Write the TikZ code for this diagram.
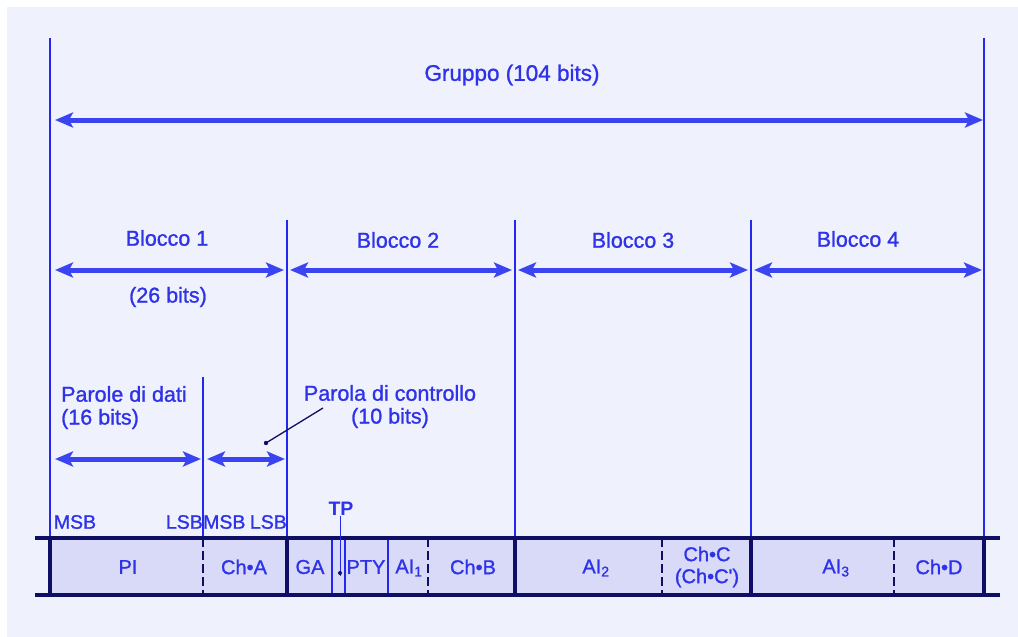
\documentclass[tikz,border=0pt]{standalone}
\usepackage{fontspec}
\setmainfont{Liberation Sans}
\newfontfamily\labelfont[FakeBold=1.1]{Liberation Sans}
\newfontfamily\tpfont{Liberation Sans Bold}
\usetikzlibrary{arrows.meta}
\definecolor{ink}{RGB}{46,50,232}
\definecolor{guideblue}{RGB}{36,40,238}
\definecolor{spanblue}{RGB}{58,68,240}
\definecolor{framenavy}{RGB}{14,14,100}
\definecolor{cellfill}{RGB}{216,218,248}
\definecolor{paper}{RGB}{239,241,252}
\begin{document}
\begin{tikzpicture}[x=1pt,y=-1pt,
  lbl/.style={text=ink, inner sep=0pt, font=\labelfont\fontsize{21.5}{24}\selectfont},
  small/.style={text=ink, inner sep=0pt, font=\labelfont\fontsize{19.5}{22}\selectfont},
  cell/.style={text=ink, inner sep=0pt, font=\labelfont\fontsize{20}{22}\selectfont, align=center},
  span/.style={draw=spanblue, line width=5pt,
    {Stealth[length=18pt,width=15pt,inset=4pt]}-{Stealth[length=18pt,width=15pt,inset=4pt]}},
  guide/.style={draw=guideblue, line width=1.3pt},
  edge/.style={draw=framenavy, line width=3.2pt},
  blockedge/.style={draw=framenavy, line width=4.5pt},
  fieldsep/.style={draw=guideblue, line width=1.2pt},
  fielddash/.style={draw=framenavy, line width=1.4pt, dash pattern=on 9pt off 4pt},
  pointer/.style={draw=framenavy, line width=1.3pt}]
\useasboundingbox (0,0) rectangle (1018,637);
% paper
\fill[white] (0,0) rectangle (1018,637);
\fill[paper] (7,7) rectangle (1018,637);

% block boundaries
\foreach \n/\x in {0/50,1/287,2/515,3/751,4/984}{
  \coordinate (top\n) at (\x,220);
  \coordinate (bar\n) at (\x,538);
  \coordinate (low\n) at (\x,595);
}
\coordinate (gtopL) at (50,38);
\coordinate (gtopR) at (984,38);
\coordinate (wtop) at (203,377);
\coordinate (wbar) at (203,538);
\coordinate (wlow) at (203,595);

% the bar of the group
\fill[cellfill] (bar0) rectangle (low4);
\coordinate (barL) at (35,538);
\coordinate (barR) at (1000,538);
\coordinate (lowL) at (35,595);
\coordinate (lowR) at (1000,595);

% guide lines
\draw[guide] (gtopL) -- (bar0);
\draw[guide] (gtopR) -- (bar4);
\foreach \n in {1,2,3}{ \draw[guide] (top\n) -- (bar\n); }
\draw[guide] (wtop) -- (wbar);

% field separators inside the bar
\draw[fielddash] (wbar) -- (wlow);
\foreach \x in {428,662,894}{ \draw[fielddash] (\x,538) -- (\x,595); }
\foreach \x in {332,345,388}{ \draw[fieldsep] (\x,538) -- (\x,595); }

% bar frame
\draw[edge] (barL) -- (barR);
\draw[edge] (lowL) -- (lowR);
\foreach \n in {0,1,2,3,4}{ \draw[blockedge] (bar\n) -- (low\n); }

% group span
\node[lbl, font=\labelfont\fontsize{22.5}{25}\selectfont] (gruppo) at (512,75) {Gruppo (104 bits)};
\coordinate (gL) at (55,120);
\coordinate (gR) at (983,120);
\draw[span] (gL) -- (gR);

% block spans
\node[lbl] (blk1) at (167,238) {Blocco 1};
\node[lbl] (blk2) at (398,240) {Blocco 2};
\node[lbl] (blk3) at (633,240) {Blocco 3};
\node[lbl] (blk4) at (858,239) {Blocco 4};
\node[lbl] (bits26) at (168,297) {(26 bits)};
\coordinate (s1L) at (55,270);   \coordinate (s1R) at (284,270);
\coordinate (s2L) at (290,270);  \coordinate (s2R) at (512,270);
\coordinate (s3L) at (518,270);  \coordinate (s3R) at (748,270);
\coordinate (s4L) at (754,270);  \coordinate (s4R) at (982,270);
\draw[span] (s1L) -- (s1R);
\draw[span] (s2L) -- (s2R);
\draw[span] (s3L) -- (s3R);
\draw[span] (s4L) -- (s4R);

% word spans
\node[lbl, anchor=west] (dati) at (61,394) {Parole di dati};
\node[lbl, anchor=west] (bits16) at (61,419) {(16 bits)};
\node[lbl] (ctrl) at (390,393) {Parola di controllo};
\node[lbl] (bits10) at (390,418) {(10 bits)};
\coordinate (dL) at (55,459);  \coordinate (dR) at (201,459);
\coordinate (cL) at (207,459); \coordinate (cR) at (285,459);
\draw[span] (dL) -- (dR);
\draw[span] (cL) -- (cR);
\coordinate (ptrTip) at (266,443);
\coordinate (ptrEnd) at (323,408);
\draw[pointer] (ptrTip) -- (ptrEnd);
\fill[framenavy] (ptrTip) circle (2.2pt);

% bit order labels
\node[small] (msb1) at (75,522) {MSB};
\node[small, anchor=east] (lsb1) at (203,522) {LSB};
\node[small, anchor=west] (msb2) at (203,522) {MSB};
\node[small, anchor=east] (lsb2) at (287,522) {LSB};
\node[small, font=\tpfont\fontsize{19.5}{22}\selectfont] (tp) at (341,509) {TP};
\coordinate (tpdot) at (340,573);
\draw[guideblue, line width=0.8pt] (tp.south -| tpdot) -- ([yshift=-3pt]tpdot);
\fill[framenavy] (tpdot) circle (2pt);

% field names
\node[cell] (pi) at (128,567) {PI};
\node[cell] (cha) at (244,567) {Ch•A};
\node[cell] (ga) at (310,567) {GA};
\node[cell] (pty) at (366,567) {PTY};
\node[cell] (ai1) at (409,568) {AI\textsubscript{1}};
\node[cell] (chb) at (473,567) {Ch•B};
\node[cell] (ai2) at (596,568) {AI\textsubscript{2}};
\node[cell] (chc) at (707,567) {Ch•C\\(Ch•C')};
\node[cell] (ai3) at (836,568) {AI\textsubscript{3}};
\node[cell] (chd) at (939,567) {Ch•D};
\end{tikzpicture}
\end{document}
